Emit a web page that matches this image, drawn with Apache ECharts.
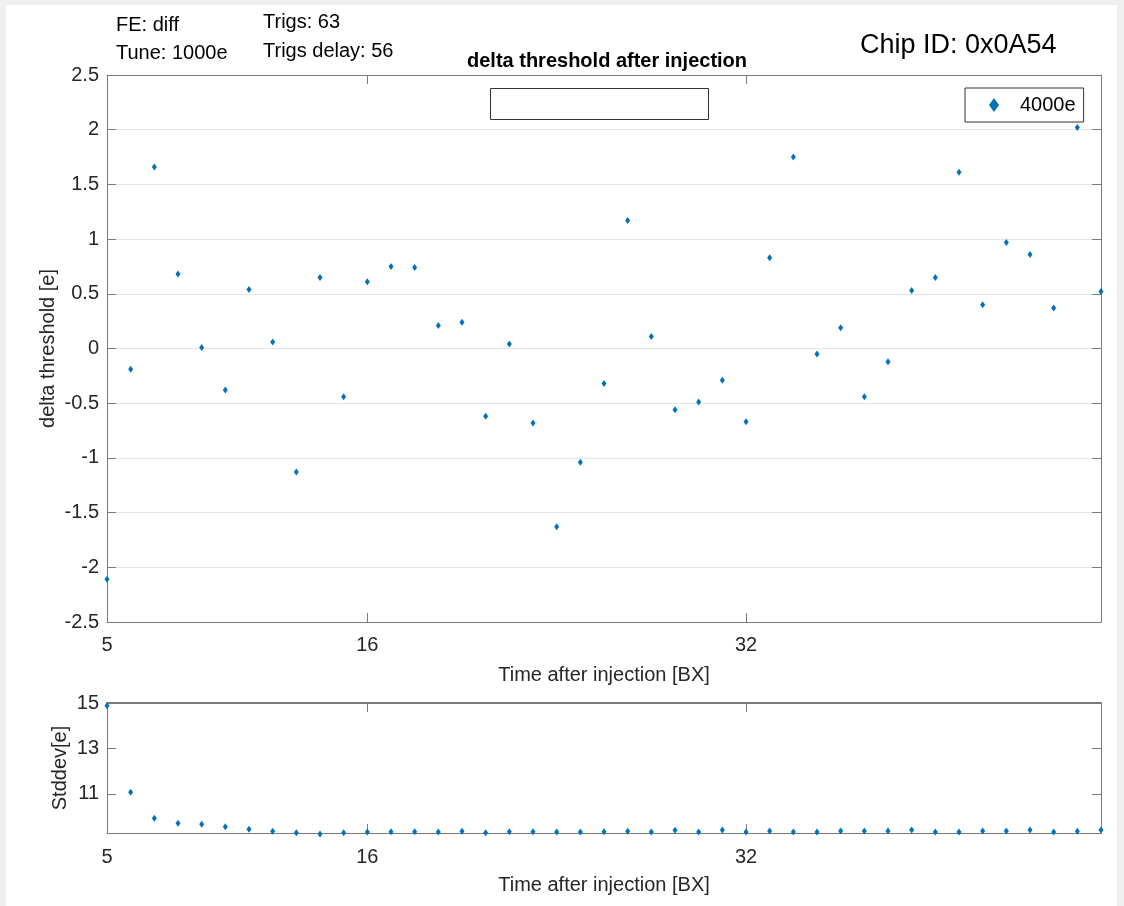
<!DOCTYPE html>
<html>
<head>
<meta charset="utf-8">
<script src="https://cdn.jsdelivr.net/npm/echarts@6/dist/echarts.min.js"></script>
<style>
html,body{margin:0;padding:0;background:#fff;}
#c{width:1124px;height:906px;}
</style>
</head>
<body>
<div id="c"></div>
<script>
// ---- data ----
const timeBX = [5,6,7,8,9,10,11,12,13,14,15,16,17,18,19,20,21,22,23,24,25,26,27,28,29,30,31,32,33,34,35,36,37,38,39,40,41,42,43,44,45,46,47];
const deltaThreshold = [-2.11,-0.19,1.66,0.68,0.01,-0.38,0.54,0.06,-1.13,0.65,-0.44,0.61,0.75,0.74,0.21,0.24,-0.62,0.04,-0.68,-1.63,-1.04,-0.32,1.17,0.11,-0.56,-0.49,-0.29,-0.67,0.83,1.75,-0.05,0.19,-0.44,-0.12,0.53,0.65,1.61,0.40,0.97,0.86,0.37,2.02,0.52];
const stddev = [14.88,11.07,9.92,9.70,9.66,9.55,9.44,9.35,9.28,9.23,9.28,9.31,9.32,9.32,9.31,9.35,9.28,9.32,9.32,9.31,9.31,9.32,9.35,9.31,9.39,9.31,9.40,9.31,9.36,9.31,9.31,9.36,9.36,9.36,9.40,9.31,9.31,9.36,9.36,9.40,9.31,9.35,9.40];
const xTickLabels = [5,16,32];
const xTickMarks = [16,32];
const stdTicks = [11,13,15];
const seriesName = '4000e';
const titleText = 'delta threshold after injection';
const infoTexts = ['FE: diff','Tune: 1000e','Trigs: 63','Trigs delay: 56'];
const chipText = 'Chip ID: 0x0A54';

// ---- chart ----
const FONT = "'Liberation Sans', Arial, Helvetica, sans-serif";
const AX = '#7a7a7a';
const BLUE = '#0072BD';
const TXT = '#262626';
const pts1 = timeBX.map((x,i)=>[x, deltaThreshold[i]]);
const pts2 = timeBX.map((x,i)=>[x, stddev[i]]);

const chart = echarts.init(document.getElementById('c'), null, {renderer:'canvas'});

const lineStyle = {color: AX, width: 1};
const tick = (vals) => ({show:true, inside:true, length:9, lineStyle:{color:AX}, customValues: vals});

chart.setOption({
  backgroundColor: '#ffffff',
  animation: false,
  textStyle: {fontFamily: FONT},
  title: {
    text: titleText, left: 462, top: 46,
    textStyle: {fontFamily: FONT, fontSize: 20, fontWeight: 'bold', color: '#000'}
  },
  legend: {
    data: [seriesName], left: 965, top: 88,
    orient: 'vertical',
    backgroundColor: '#fff',
    borderColor: '#333', borderWidth: 1, borderRadius: 0,
    padding: [7, 8, 7, 24],
    itemWidth: 10, itemHeight: 14,
    icon: 'diamond',
    textStyle: {fontFamily: FONT, fontSize: 20, color: '#000', padding: [0,0,0,16]}
  },
  grid: [
    {left: 107, top: 75, width: 994, height: 547, show: false},
    {left: 107, top: 703, width: 994, height: 130, show: false}
  ],
  xAxis: [
    {gridIndex:0, type:'value', min:5, max:47, position:'bottom',
     name:'Time after injection [BX]', nameLocation:'middle', nameGap:43, nameMoveOverlap:false,
     nameTextStyle:{fontFamily:FONT, fontSize:20, color:TXT},
     axisLine:{show:true, onZero:false, lineStyle},
     axisTick: tick(xTickMarks),
     axisLabel:{show:true, margin:13, fontFamily:FONT, fontSize:20, color:TXT, customValues:xTickLabels},
     splitLine:{show:false}},
    {gridIndex:0, type:'value', min:5, max:47, position:'top',
     axisLine:{show:true, onZero:false, lineStyle},
     axisTick: tick(xTickMarks),
     axisLabel:{show:false}, splitLine:{show:false}},
    {gridIndex:1, type:'value', min:5, max:47, position:'bottom',
     name:'Time after injection [BX]', nameLocation:'middle', nameGap:42, nameMoveOverlap:false,
     nameTextStyle:{fontFamily:FONT, fontSize:20, color:TXT},
     axisLine:{show:true, onZero:false, lineStyle},
     axisTick: tick(xTickMarks),
     axisLabel:{show:true, margin:14, fontFamily:FONT, fontSize:20, color:TXT, customValues:xTickLabels},
     splitLine:{show:false}},
    {gridIndex:1, type:'value', min:5, max:47, position:'top',
     axisLine:{show:true, onZero:false, lineStyle:{color:AX, width:2}},
     axisTick: tick(xTickMarks),
     axisLabel:{show:false}, splitLine:{show:false}}
  ],
  yAxis: [
    {gridIndex:0, type:'value', min:-2.5, max:2.5, interval:0.5, position:'left',
     name:'delta threshold [e]', nameLocation:'middle', nameGap:49, nameRotate:90, nameMoveOverlap:false,
     nameTextStyle:{fontFamily:FONT, fontSize:20, color:TXT},
     axisLine:{show:true, onZero:false, lineStyle},
     axisTick:{show:true, inside:true, length:9, lineStyle:{color:AX}},
     axisLabel:{show:true, margin:8, fontFamily:FONT, fontSize:20, color:TXT},
     splitLine:{show:true, lineStyle:{color:'#e6e6e6', width:1}}},
    {gridIndex:0, type:'value', min:-2.5, max:2.5, interval:0.5, position:'right',
     axisLine:{show:true, onZero:false, lineStyle},
     axisTick:{show:true, inside:true, length:9, lineStyle:{color:AX}},
     axisLabel:{show:false}, splitLine:{show:false}},
    {gridIndex:1, type:'value', min:9.27, max:15, position:'left',
     name:'Stddev[e]', nameLocation:'middle', nameGap:37, nameRotate:90, nameMoveOverlap:false,
     nameTextStyle:{fontFamily:FONT, fontSize:20, color:TXT},
     axisLine:{show:true, onZero:false, lineStyle},
     axisTick: tick(stdTicks),
     axisLabel:{show:true, margin:8, fontFamily:FONT, fontSize:20, color:TXT, customValues:stdTicks},
     splitLine:{show:false}},
    {gridIndex:1, type:'value', min:9.27, max:15, position:'right',
     axisLine:{show:true, onZero:false, lineStyle},
     axisTick: tick(stdTicks),
     axisLabel:{show:false}, splitLine:{show:false}}
  ],
  series: [
    {name: seriesName, type:'scatter', xAxisIndex:0, yAxisIndex:0, data: pts1,
     symbol:'diamond', symbolSize:[5,7], itemStyle:{color:BLUE, opacity:1}, clip:false, z:5},
    {name: 'stddev', type:'scatter', xAxisIndex:2, yAxisIndex:2, data: pts2,
     symbol:'diamond', symbolSize:[5,7], itemStyle:{color:BLUE, opacity:1}, clip:false, z:5}
  ],
  graphic: [
    {type:'rect', left:0, top:0, shape:{width:1124, height:5}, style:{fill:'#f0f0f0'}, silent:true, z:-10},
    {type:'rect', left:0, top:0, shape:{width:6, height:906}, style:{fill:'#f0f0f0'}, silent:true, z:-10},
    {type:'rect', left:1117, top:0, shape:{width:7, height:906}, style:{fill:'#f0f0f0'}, silent:true, z:-10},
    {type:'rect', shape:{x:490.5, y:88.5, width:218, height:31}, style:{fill:'#fff', stroke:'#333', lineWidth:1}, silent:true, z:10},
    {type:'text', x:116, y:25, style:{text:infoTexts[0], fontFamily:FONT, fontSize:20, fill:'#000', verticalAlign:'middle'}},
    {type:'text', x:116, y:53, style:{text:infoTexts[1], fontFamily:FONT, fontSize:20, fill:'#000', verticalAlign:'middle'}},
    {type:'text', x:263, y:22, style:{text:infoTexts[2], fontFamily:FONT, fontSize:20, fill:'#000', verticalAlign:'middle'}},
    {type:'text', x:263, y:51, style:{text:infoTexts[3], fontFamily:FONT, fontSize:20, fill:'#000', verticalAlign:'middle'}},
    {type:'text', x:860, y:46, style:{text:chipText, fontFamily:FONT, fontSize:27, fill:'#000', verticalAlign:'middle'}}
  ]
});
</script>
</body>
</html>
